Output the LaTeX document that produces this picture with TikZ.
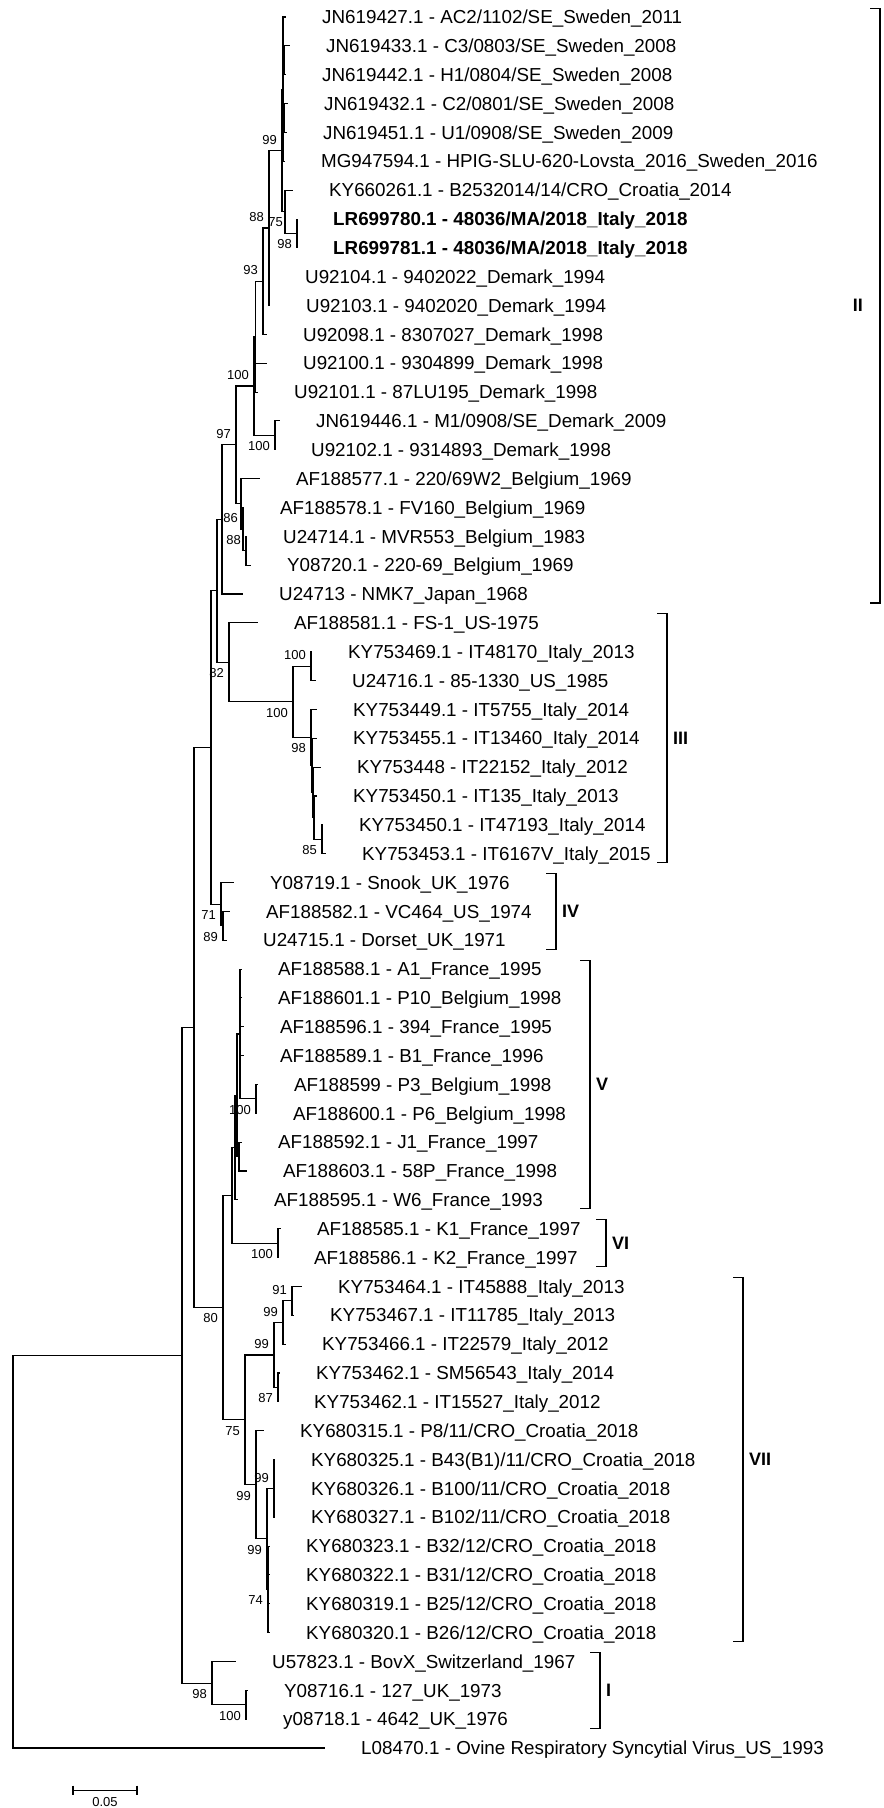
\documentclass[tikz,border=0pt]{standalone}
\usepackage{fontspec}
\setmainfont{Liberation Sans}
\usetikzlibrary{positioning}

\begin{document}
\begin{tikzpicture}[x=1pt, y=-28.85pt,
    br/.style={line width=1.1pt},
    leaf/.style={anchor=base west, yshift=-6.7pt, inner sep=0pt, font=\fontsize{18.8}{20}\selectfont},
    boot/.style={inner sep=0pt, font=\fontsize{13}{14}\selectfont},
    bu/.style={boot, anchor=south east, xshift=-5pt, yshift=6pt},
    bd/.style={boot, anchor=north east, xshift=-5pt, yshift=-6pt},
    bdtight/.style={boot, anchor=north east, xshift=-2pt, yshift=-6pt},
    clade/.style={inner sep=0pt, font=\fontsize{18}{20}\selectfont\bfseries}]

  \fill[white] (0,-0.5893) rectangle (883,62.079);
  \useasboundingbox (0,-0.5893) rectangle (883,62.079);

  % leaves: row / tip x / name
  \foreach \i/\tx/\lab in {
    0/286/{JN619427.1 - AC2/1102/SE\_Sweden\_2011},
    1/290/{JN619433.1 - C3/0803/SE\_Sweden\_2008},
    2/286/{JN619442.1 - H1/0804/SE\_Sweden\_2008},
    3/288/{JN619432.1 - C2/0801/SE\_Sweden\_2008},
    4/287/{JN619451.1 - U1/0908/SE\_Sweden\_2009},
    5/285/{MG947594.1 - HPIG-SLU-620-Lovsta\_2016\_Sweden\_2016},
    6/293/{KY660261.1 - B2532014/14/CRO\_Croatia\_2014},
    7/297/{\bfseries LR699780.1 - 48036/MA/2018\_Italy\_2018},
    8/297/{\bfseries LR699781.1 - 48036/MA/2018\_Italy\_2018},
    9/269/{U92104.1 - 9402022\_Demark\_1994},
    10/270/{U92103.1 - 9402020\_Demark\_1994},
    11/267/{U92098.1 - 8307027\_Demark\_1998},
    12/267/{U92100.1 - 9304899\_Demark\_1998},
    13/258/{U92101.1 - 87LU195\_Demark\_1998},
    14/280/{JN619446.1 - M1/0908/SE\_Demark\_2009},
    15/275/{U92102.1 - 9314893\_Demark\_1998},
    16/260/{AF188577.1 - 220/69W2\_Belgium\_1969},
    17/244/{AF188578.1 - FV160\_Belgium\_1969},
    18/247/{U24714.1 - MVR553\_Belgium\_1983},
    19/251/{Y08720.1 - 220-69\_Belgium\_1969},
    20/243/{U24713 - NMK7\_Japan\_1968},
    21/258/{AF188581.1 - FS-1\_US-1975},
    22/312/{KY753469.1 - IT48170\_Italy\_2013},
    23/316/{U24716.1 - 85-1330\_US\_1985},
    24/317/{KY753449.1 - IT5755\_Italy\_2014},
    25/317/{KY753455.1 - IT13460\_Italy\_2014},
    26/321/{KY753448 - IT22152\_Italy\_2012},
    27/317/{KY753450.1 - IT135\_Italy\_2013},
    28/323/{KY753450.1 - IT47193\_Italy\_2014},
    29/326/{KY753453.1 - IT6167V\_Italy\_2015},
    30/234/{Y08719.1 - Snook\_UK\_1976},
    31/230/{AF188582.1 - VC464\_US\_1974},
    32/227/{U24715.1 - Dorset\_UK\_1971},
    33/242/{AF188588.1 - A1\_France\_1995},
    34/242/{AF188601.1 - P10\_Belgium\_1998},
    35/244/{AF188596.1 - 394\_France\_1995},
    36/244/{AF188589.1 - B1\_France\_1996},
    37/258/{AF188599 - P3\_Belgium\_1998},
    38/257/{AF188600.1 - P6\_Belgium\_1998},
    39/242/{AF188592.1 - J1\_France\_1997},
    40/247/{AF188603.1 - 58P\_France\_1998},
    41/238/{AF188595.1 - W6\_France\_1993},
    42/281/{AF188585.1 - K1\_France\_1997},
    43/278/{AF188586.1 - K2\_France\_1997},
    44/302/{KY753464.1 - IT45888\_Italy\_2013},
    45/294/{KY753467.1 - IT11785\_Italy\_2013},
    46/286/{KY753466.1 - IT22579\_Italy\_2012},
    47/280/{KY753462.1 - SM56543\_Italy\_2014},
    48/278/{KY753462.1 - IT15527\_Italy\_2012},
    49/264/{KY680315.1 - P8/11/CRO\_Croatia\_2018},
    50/275/{KY680325.1 - B43(B1)/11/CRO\_Croatia\_2018},
    51/275/{KY680326.1 - B100/11/CRO\_Croatia\_2018},
    52/275/{KY680327.1 - B102/11/CRO\_Croatia\_2018},
    53/270/{KY680323.1 - B32/12/CRO\_Croatia\_2018},
    54/270/{KY680322.1 - B31/12/CRO\_Croatia\_2018},
    55/270/{KY680319.1 - B25/12/CRO\_Croatia\_2018},
    56/270/{KY680320.1 - B26/12/CRO\_Croatia\_2018},
    57/236/{U57823.1 - BovX\_Switzerland\_1967},
    58/248/{Y08716.1 - 127\_UK\_1973},
    59/247/{y08718.1 - 4642\_UK\_1976},
    60/325/{L08470.1 - Ovine Respiratory Syncytial Virus\_US\_1993}
  }{
    \coordinate (t\i) at (\tx,\i);
    \node[right=36pt of t\i, leaf] (l\i) {\lab};
  }

  % internal nodes
  \coordinate (swa) at (284,1.5);
  \coordinate (swb) at (284,3.5);
  \coordinate (sw) at (283,2.5);
  \coordinate (lr) at (297,7.5);
  \coordinate (n75) at (285,6.75);
  \coordinate (n99) at (282,4.625);
  \coordinate (n88) at (269,7.3125);
  \coordinate (n93) at (263,9.156);
  \coordinate (nq) at (255.5,11.078);
  \coordinate (jn) at (275,14.5);
  \coordinate (np) at (254,12.789);
  \coordinate (nu) at (246,18.5);
  \coordinate (nt) at (243,17.75);
  \coordinate (ns) at (241,16.875);
  \coordinate (n97) at (236,14.832);
  \coordinate (nf) at (222,17.416);
  \coordinate (n100b) at (311,22.5);
  \coordinate (v4) at (322,28.5);
  \coordinate (v3) at (314,27.75);
  \coordinate (v2) at (313,26.875);
  \coordinate (v1) at (312,25.9375);
  \coordinate (n98) at (311,24.969);
  \coordinate (n100a) at (293,23.734);
  \coordinate (n82) at (229,22.367);
  \coordinate (ne) at (217,19.892);
  \coordinate (iva) at (223,31.5);
  \coordinate (iv) at (221,30.75);
  \coordinate (nd) at (211,25.321);
  \coordinate (p3) at (256,37.5);
  \coordinate (va) at (240,35.25);
  \coordinate (vb) at (239,39.5);
  \coordinate (vc) at (237,37.375);
  \coordinate (vr) at (235,39.19);
  \coordinate (vi) at (278,42.5);
  \coordinate (vv) at (232,40.84);
  \coordinate (n91) at (292,44.5);
  \coordinate (n99b) at (283,45.25);
  \coordinate (n87) at (278,47.5);
  \coordinate (n99a) at (274,46.375);
  \coordinate (n99e) at (274,51);
  \coordinate (n74) at (268,54.5);
  \coordinate (n99d) at (267,52.75);
  \coordinate (n99c) at (256,50.875);
  \coordinate (n75b) at (245,48.625);
  \coordinate (n80) at (223,44.73);
  \coordinate (nc) at (194,35.03);
  \coordinate (n100i) at (246,58.5);
  \coordinate (n98i) at (212,57.75);
  \coordinate (nb) at (182,46.39);
  \coordinate (root) at (13,53.19);

  % branches
  \foreach \p/\c in {sw/t0, sw/swa, sw/swb, sw/t5, swa/t1, swa/t2, swb/t3, swb/t4,
      lr/t7, lr/t8, n75/t6, n75/lr, n99/sw, n99/n75,
      n88/n99, n88/t9, n88/t10, n93/n88, n93/t11, nq/n93, nq/t12, nq/t13,
      jn/t14, jn/t15, np/nq, np/jn,
      nu/t18, nu/t19, nt/t17, nt/nu, ns/t16, ns/nt, n97/np, n97/ns, nf/n97, nf/t20,
      n100b/t22, n100b/t23, v4/t28, v4/t29, v3/t27, v3/v4, v2/t26, v2/v3,
      v1/t25, v1/v2, n98/t24, n98/v1, n100a/n100b, n100a/n98, n82/t21, n82/n100a,
      ne/nf, ne/n82, iva/t31, iva/t32, iv/t30, iv/iva, nd/ne, nd/iv,
      p3/t37, p3/t38, va/t33, va/t34, va/t35, va/t36, va/p3, vb/t39, vb/t40,
      vc/va, vc/vb, vr/vc, vr/t41, vi/t42, vi/t43, vv/vr, vv/vi,
      n91/t44, n91/t45, n99b/n91, n99b/t46, n87/t47, n87/t48, n99a/n99b, n99a/n87,
      n99e/t50, n99e/t51, n99e/t52, n74/t53, n74/t54, n74/t55, n74/t56,
      n99d/n99e, n99d/n74, n99c/t49, n99c/n99d, n75b/n99a, n75b/n99c,
      n80/vv, n80/n75b, nc/nd, nc/n80,
      n100i/t58, n100i/t59, n98i/t57, n98i/n100i, nb/nc, nb/n98i, root/nb, root/t60}
    \draw[br] (\p) |- (\c);

  % bootstrap values
  \foreach \n/\v/\pos in {n99/99/bu, n88/88/bu, lr/98/bd, n93/93/bu, np/100/bu,
      jn/100/bd, n97/97/bu, nt/86/bu, nu/88/bu, n82/82/bd, n100b/100/bu,
      n100a/100/bd, n98/98/bd, v4/85/bd, iv/71/bd, iva/89/bd, p3/100/bd,
      vi/100/bd, n80/80/bd, n91/91/bu, n99b/99/bu, n99a/99/bu, n87/87/bd,
      n75b/75/bd, n99c/99/bd, n99e/99/bu, n99d/99/bd, n74/74/bd, n98i/98/bd,
      n100i/100/bd, n75/75/bdtight}
    \node[\pos] (bs-\n) at (\n) {\v};

  % clade brackets
  \foreach \cl/\bx/\ra/\rb in {II/880/0/20, III/667/21/29, IV/556/30/32, V/590/33/41,
      VI/606/42/43, VII/743/44/56, I/600/57/59}{
    \coordinate (top\cl) at (\bx,{\ra-0.31});
    \coordinate (bot\cl) at (\bx,{\rb+0.31});
    \draw[br] ([xshift=-10pt]top\cl) -- (top\cl) -- (bot\cl) -- ([xshift=-10pt]bot\cl);
  }
  \foreach \cl/\bx/\ym in {III/667/25, IV/556/31, V/590/37, VI/606/42.5, VII/743/50, I/600/58}
    \node[clade, anchor=west] (lab\cl) at ({\bx+6},\ym) {\cl};
  \node[clade, anchor=east] (labII) at (863,10) {II};

  % scale bar
  \coordinate (sb0) at (73,61.46);
  \coordinate (sb1) at (137,61.46);
  \draw[br] (sb0) -- (sb1);
  \draw[br] ([yshift=4.5pt]sb0) -- ([yshift=-4.5pt]sb0);
  \draw[br] ([yshift=4.5pt]sb1) -- ([yshift=-4.5pt]sb1);
  \node[boot, anchor=north, yshift=-7pt] (sblab) at (105,61.46) {0.05};
\end{tikzpicture}
\end{document}
